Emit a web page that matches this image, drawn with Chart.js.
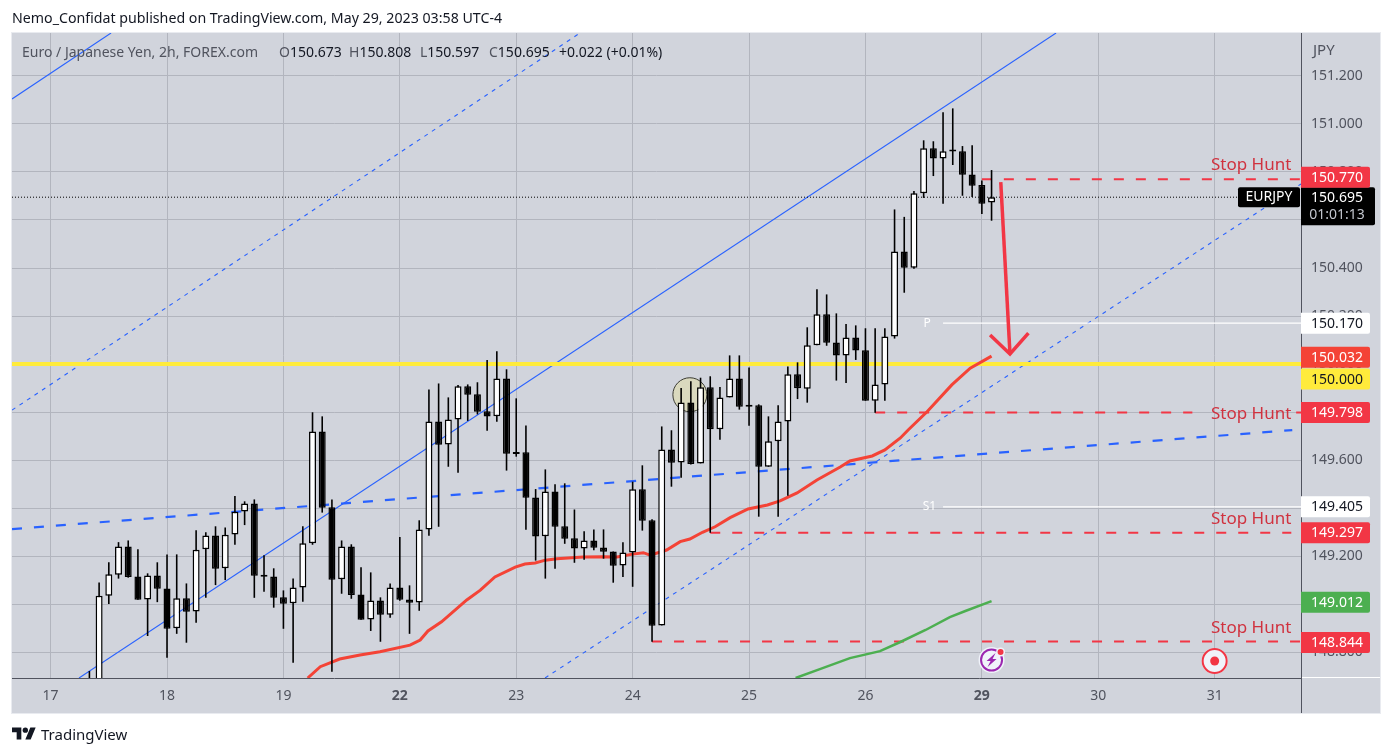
<!DOCTYPE html>
<html>
<head>
<meta charset="utf-8">
<title>EURJPY 2h</title>
<script src="https://cdn.jsdelivr.net/npm/chart.js"></script>
<style>
  html, body { margin: 0; padding: 0; background: #fff; width: 1392px; height: 756px; overflow: hidden; }
  body { position: relative; font-family: "Noto Sans", sans-serif; }
  canvas { position: absolute; left: 0; top: 0; }
  .txt { position: absolute; white-space: nowrap; line-height: 18px; }
  #published { left: 12px; top: 9px; font-size: 14.2px; color: #131722; }
  .leg { top: 43px; font-size: 14px; color: #131722; }
  .leg b { font-weight: 400; color: #50535e; }
  #brand { left: 41px; top: 724px; font-size: 15px; line-height: 20px; color: #131722; }
  #logo { position: absolute; left: 12px; top: 727px; }
</style>
</head>
<body>
<canvas id="chart" width="1392" height="756"></canvas>
<div class="txt" id="published">Nemo_Confidat published on TradingView.com, May 29, 2023 03:58 UTC-4</div>
<div class="txt leg" style="left:22px"><b>Euro / Japanese Yen, 2h, FOREX.com</b></div>
<div class="txt leg" style="left:279px"><b>O</b>150.673</div>
<div class="txt leg" style="left:349px"><b>H</b>150.808</div>
<div class="txt leg" style="left:420px"><b>L</b>150.597</div>
<div class="txt leg" style="left:489px"><b>C</b>150.695</div>
<div class="txt leg" style="left:559px">+0.022 (+0.01%)</div>
<svg id="logo" width="24" height="13" viewBox="0 4 36 18"><path fill="#131722" d="M14 22H7V11H0V4h14v18zM28 22h-8l7.5-18h8L28 22z"/><circle fill="#131722" cx="20" cy="8" r="4"/></svg>
<div class="txt" id="brand">TradingView</div>
<script>
// bars are numbered from the first label (17 May = bar 0), 12 bars a day
const firstBar = 4;
const opens = [148.62,148.50,149.035,149.122,149.240,149.115,149.019,149.119,149.065,148.899,149.024,148.969,149.228,149.286,149.149,149.290,149.386,149.419,149.119,149.115,149.028,149.003,149.069,149.253,149.719,149.403,149.103,149.240,149.040,148.936,149.015,148.956,149.069,149.019,149.007,149.311,149.761,149.665,149.769,149.907,149.874,149.803,149.782,149.940,149.632,149.632,149.444,149.282,149.469,149.324,149.274,149.231,149.265,149.236,149.219,149.161,149.215,149.478,149.349,148.911,149.644,149.590,149.840,149.586,149.903,149.728,149.861,149.940,149.828,149.828,149.572,149.678,149.761,149.957,149.897,150.078,150.207,150.090,150.035,150.111,150.057,149.847,149.915,150.115,150.469,150.401,150.711,150.899,150.856,150.888,150.886,150.790,150.746,150.673];
const highs = [148.721,149.090,149.174,149.258,149.265,149.228,149.128,149.174,149.207,149.207,149.086,149.307,149.299,149.324,149.319,149.450,149.428,149.436,149.203,149.149,149.057,149.107,149.324,149.799,149.782,149.436,149.265,149.249,149.153,149.132,149.028,149.086,149.279,149.078,149.349,149.894,149.919,149.861,149.913,149.915,149.924,150.017,150.053,149.978,149.857,149.744,149.479,149.561,149.499,149.503,149.394,149.303,149.311,149.311,149.219,149.258,149.510,149.578,149.353,149.740,149.724,149.900,149.928,149.943,149.949,149.904,150.036,150.036,149.986,149.832,149.782,149.828,149.990,150.007,150.153,150.311,150.290,150.211,150.167,150.161,150.149,150.149,150.149,150.644,150.613,150.721,150.932,150.928,151.049,151.065,150.908,150.911,150.765,150.808];
const lows = [148.55,148.45,149.000,149.106,149.110,149.018,148.867,149.008,148.776,148.876,148.839,148.922,149.026,149.079,149.100,149.247,149.329,149.026,149.051,148.985,148.897,148.756,149.010,149.247,149.381,148.718,149.043,149.022,148.935,148.888,148.843,148.943,149.014,148.876,148.972,149.285,149.322,149.572,149.547,149.763,149.790,149.722,149.760,149.556,149.614,149.310,149.181,149.106,149.147,149.251,149.172,149.185,149.224,149.189,149.089,149.113,149.072,149.306,148.843,148.911,149.489,149.526,149.581,149.586,149.297,149.685,149.861,149.810,149.743,149.364,149.572,149.364,149.451,149.854,149.839,150.078,150.076,149.931,149.921,150.017,149.847,149.797,149.847,150.106,150.297,150.397,150.692,150.783,150.668,150.829,150.701,150.696,150.625,150.597];
const closes = [148.60,149.035,149.124,149.240,149.113,149.018,149.119,149.064,148.897,149.024,148.968,149.226,149.286,149.147,149.289,149.385,149.419,149.118,149.114,149.026,149.001,149.069,149.253,149.719,149.401,149.101,149.240,149.038,148.935,149.015,148.956,149.069,149.018,149.006,149.311,149.761,149.664,149.769,149.907,149.872,149.801,149.781,149.940,149.626,149.625,149.443,149.281,149.469,149.322,149.272,149.231,149.265,149.235,149.218,149.160,149.215,149.478,149.347,148.910,149.644,149.589,149.840,149.583,149.903,149.728,149.861,149.940,149.822,149.822,149.572,149.678,149.761,149.957,149.899,150.078,150.207,150.089,150.035,150.111,150.056,149.847,149.915,150.115,150.469,150.401,150.711,150.899,150.856,150.886,150.885,150.789,150.743,150.668,150.695];

// moving averages
const redBars = [26.5,27.8,29.8,31.9,33.95,37.05,38.1,38.9,40.3,42.9,44.3,45.8,47.9,48.9,49.95,51,52.2,54.9,56.95,58.4,60,61.1,61.8,63.5,64.9,65.9,67.2,68.5,70.05,71.9,73.9,75.2,76.95,79,81.4,82.4,84.7,86,87.6,88.4,90.35,92.9,94.8,97];
const redValues = [148.692,148.739,148.771,148.788,148.801,148.829,148.85,148.888,148.926,149.017,149.058,149.113,149.154,149.167,149.171,149.183,149.189,149.196,149.197,149.196,149.208,149.214,149.204,149.225,149.26,149.271,149.299,149.322,149.36,149.396,149.413,149.43,149.463,149.517,149.571,149.596,149.617,149.642,149.692,149.725,149.801,149.913,149.983,150.033];
const greenBars = [76.8,79.3,82.4,85.5,87.6,90.2,92.7,94.3,97];
const greenValues = [148.692,148.729,148.775,148.804,148.842,148.892,148.946,148.971,149.012];

// axes
const priceTicks = [148.8,149.0,149.2,149.4,149.6,149.8,150.0,150.2,150.4,150.6,150.8,151.0,151.2];
const dayBars = [0,12,24,36,48,60,72,84,96,108,120];
const dayLabels = ['17','18','19','22','23','24','25','26','29','30','31'];
const boldDays = ['22','29'];

// channel and trend lines, two ends each
const channelBars = [2.93,103.65];
const channelValues = [148.692,151.379];
const channelTopBars = [-3.98,6.23];
const channelTopValues = [151.104,151.379];
const upperDashBars = [-3.98,54.58];
const upperDashValues = [149.808,151.379];
const lowerDashBars = [50.97,128.9];
const lowerDashValues = [148.692,150.75];
const midDashBars = [-3.98,128];
const midDashValues = [149.3125,149.725];

// drawn levels
const stopValues = [150.770,149.798,149.798,149.297,148.844];
const stopFrom = [96,85,128.4,68,62];
const stopTo = [128.9,117.7,128.9,127.9,128.9];
const yellowLevel = 150.000;
const lastPrice = 150.695;
const pivotLevel = 150.170;
const s1Level = 149.405;
const pivotFrom = 92;
const arrowShaftBars = [97.95,98.9];
const arrowShaftValues = [150.758,150.042];
const arrowHeadBars = [96.85,98.9,100.8];
const arrowHeadValues = [150.121,150.042,150.129];
const circleBar = 65.9;
const circleValue = 149.872;

// text marks
const stopTextValues = [150.827,149.792,149.353,148.900];
const badgeValues = [150.770,150.170,150.032,150.000,149.798,149.405,149.297,149.012,148.844];
const badgeLabels = ['150.770','150.170','150.032','150.000','149.798','149.405','149.297','149.012','148.844'];
const badgeFill = ['#f23645','#ffffff','#f44336','#ffeb3b','#f23645','#ffffff','#f23645','#4caf50','#f23645'];
const badgeText = ['#ffffff','#131722','#ffffff','#131722','#ffffff','#131722','#ffffff','#ffffff','#ffffff'];
const badgeNudge = [-2,0,1,15,0,0,0,1,1];

const fontFamily = '"Noto Sans", sans-serif';
const RED = '#f23645';
const BLUE = '#2962ff';
const PANEL = '#d1d4dc';
const GRID = '#b2b5be';
const AXIS = '#50535e';
const PLOT_LEFT = 12;

function lineSet(xs, ys, color, width, dash, order) {
    return {
        type: 'line',
        data: xs.map((x, i) => ({ x: x, y: ys[i] })),
        borderColor: color,
        borderWidth: width,
        borderDash: dash || [],
        pointRadius: 0,
        fill: false,
        tension: 0,
        order: order
    };
}

const barIndex = opens.map((_, i) => i + firstBar);
const candleFill = opens.map((o, i) => closes[i] >= o ? '#ffffff' : '#000000');

const datasets = [
    {
        type: 'bar',
        data: barIndex.map((x, i) => ({ x: x, y: [Math.min(opens[i], closes[i]), Math.max(opens[i], closes[i])] })),
        backgroundColor: candleFill,
        borderColor: '#000000',
        borderWidth: 1.5,
        borderSkipped: false,
        inflateAmount: 0,
        grouped: false,
        barThickness: 7,
        minBarLength: 2,
        order: 1
    },
    {
        type: 'bar',
        data: barIndex.map((x, i) => ({ x: x, y: [lows[i], highs[i]] })),
        backgroundColor: '#000000',
        borderWidth: 0,
        inflateAmount: 0,
        grouped: false,
        barThickness: 1.6,
        order: 2
    },
    {
        type: 'scatter',
        data: [{ x: circleBar, y: circleValue }],
        pointRadius: 17,
        pointBackgroundColor: '#dad9be',
        pointBorderColor: '#3b3b33',
        pointBorderWidth: 1,
        order: 3
    },
    lineSet(redBars, redValues, '#f44336', 3, null, 4),
    lineSet(greenBars, greenValues, '#4caf50', 2.5, null, 4),
    lineSet(arrowShaftBars, arrowShaftValues, RED, 3.5, null, 0),
    lineSet(arrowHeadBars, arrowHeadValues, RED, 3.5, null, 0),
    lineSet(channelBars, channelValues, BLUE, 1.1, null, 6),
    lineSet(channelTopBars, channelTopValues, BLUE, 1.1, null, 6),
    lineSet(upperDashBars, upperDashValues, BLUE, 1.1, [4, 5], 6),
    lineSet(lowerDashBars, lowerDashValues, BLUE, 1.1, [4, 5], 6),
    lineSet(midDashBars, midDashValues, BLUE, 2.2, [10, 12], 6),
    lineSet([-3.98, 128.9], [yellowLevel, yellowLevel], '#ffeb3b', 4, null, 5),
    lineSet([-3.98, 128.9], [lastPrice, lastPrice], '#000000', 1, [1, 2], 5),
    lineSet([pivotFrom, 128.9], [pivotLevel, pivotLevel], '#ffffff', 1.2, null, 5),
    lineSet([pivotFrom, 128.9], [s1Level, s1Level], '#ffffff', 1.2, null, 5)
];
stopValues.forEach((v, i) => {
    datasets.push(lineSet([stopFrom[i], stopTo[i]], [v, v], RED, 2, [10, 12], 5));
});

const panelPlugin = {
    id: 'panel',
    // the time axis keeps a label margin on the left, pull the plot back out to the panel edge
    afterLayout(chart) {
        const xs = chart.scales.x, a = chart.chartArea;
        xs.left = PLOT_LEFT;
        xs.width = xs.right - PLOT_LEFT;
        xs.configure();
        a.left = PLOT_LEFT;
        a.width = a.right - PLOT_LEFT;
    },
    beforeDraw(chart) {
        const c = chart.ctx, a = chart.chartArea;
        c.save();
        c.fillStyle = PANEL;
        c.fillRect(a.left, a.top, 1380 - a.left, 713 - a.top);
        c.strokeStyle = '#e9ebf0';
        c.strokeRect(a.left - 0.5, a.top - 0.5, 1381 - a.left, 714 - a.top);
        c.restore();
    }
};

function roundedBox(c, x, y, w, h, r, fill) {
    c.fillStyle = fill;
    c.beginPath();
    c.roundRect(x, y, w, h, r);
    c.fill();
}

const overlayPlugin = {
    id: 'overlay',
    afterDraw(chart) {
        const c = chart.ctx, a = chart.chartArea;
        const xs = chart.scales.x, ys = chart.scales.y;
        c.save();
        c.textBaseline = 'middle';

        // right axis rule, and the white tail of the time axis
        c.strokeStyle = AXIS;
        c.lineWidth = 1;
        c.beginPath();
        c.moveTo(a.right + 0.5, a.top);
        c.lineTo(a.right + 0.5, 713);
        c.stroke();
        c.strokeStyle = '#ffffff';
        c.beginPath();
        c.moveTo(a.right + 1, a.bottom - 0.5);
        c.lineTo(1380, a.bottom - 0.5);
        c.stroke();

        // pivot names
        c.fillStyle = '#ffffff';
        c.font = '12px ' + fontFamily;
        c.textAlign = 'center';
        c.fillText('P', xs.getPixelForValue(90.35), ys.getPixelForValue(pivotLevel));
        c.fillText('S1', xs.getPixelForValue(90.6), ys.getPixelForValue(s1Level));

        // stop hunt notes
        c.fillStyle = '#d0323f';
        c.font = '17px ' + fontFamily;
        c.textAlign = 'right';
        stopTextValues.forEach(v => c.fillText('Stop Hunt', xs.getPixelForValue(127.9), ys.getPixelForValue(v)));

        // symbol tag and last price box
        const lastY = ys.getPixelForValue(lastPrice);
        roundedBox(c, 1238, lastY - 10, 62, 20, 2, '#000000');
        c.fillStyle = '#ffffff';
        c.font = '14px ' + fontFamily;
        c.textAlign = 'center';
        c.fillText('EURJPY', 1269, lastY);
        roundedBox(c, a.right, lastY - 10, 74, 38, [0, 2, 2, 0], '#000000');
        c.fillStyle = '#ffffff';
        c.fillText('150.695', 1337, lastY + 1);
        c.fillStyle = '#c3c6ce';
        c.fillText('01:01:13', 1337, lastY + 18);

        // price badges
        badgeValues.forEach((v, i) => {
            const y = ys.getPixelForValue(v) + badgeNudge[i];
            roundedBox(c, a.right, y - 10.5, 69, 21, [0, 2, 2, 0], badgeFill[i]);
            c.fillStyle = badgeText[i];
            c.fillText(badgeLabels[i], 1337, y + 0.5);
        });

        // session break icon
        const bx = xs.getPixelForValue(97), iy = a.bottom - 18;
        c.fillStyle = '#f0f3fa';
        c.beginPath(); c.arc(bx, iy, 13, 0, Math.PI * 2); c.fill();
        c.strokeStyle = '#9c27b0';
        c.lineWidth = 2;
        c.beginPath(); c.arc(bx, iy, 10.5, 0, Math.PI * 2); c.stroke();
        c.fillStyle = '#9c27b0';
        c.beginPath();
        c.moveTo(bx + 4, iy - 7); c.lineTo(bx - 5, iy + 1); c.lineTo(bx - 1, iy + 1);
        c.lineTo(bx - 4, iy + 7); c.lineTo(bx + 5, iy - 1); c.lineTo(bx + 1, iy - 1);
        c.closePath(); c.fill();
        c.fillStyle = '#f0f3fa';
        c.beginPath(); c.arc(bx + 9, iy - 8, 4.5, 0, Math.PI * 2); c.fill();
        c.fillStyle = RED;
        c.beginPath(); c.arc(bx + 9, iy - 8, 3, 0, Math.PI * 2); c.fill();

        // upcoming event icon
        const tx = xs.getPixelForValue(120);
        c.fillStyle = '#f0f3fa';
        c.beginPath(); c.arc(tx, iy + 1, 13, 0, Math.PI * 2); c.fill();
        c.strokeStyle = RED;
        c.lineWidth = 2;
        c.beginPath(); c.arc(tx, iy + 1, 12, 0, Math.PI * 2); c.stroke();
        c.fillStyle = RED;
        c.beginPath(); c.arc(tx, iy + 1, 4.5, 0, Math.PI * 2); c.fill();
        c.restore();
    }
};

new Chart(document.getElementById('chart').getContext('2d'), {
    type: 'bar',
    data: { datasets: datasets },
    plugins: [panelPlugin, overlayPlugin],
    options: {
        responsive: false,
        animation: false,
        events: [],
        devicePixelRatio: 1,
        layout: { padding: { left: 12, top: 33, right: 12, bottom: 43 } },
        plugins: { legend: { display: false }, tooltip: { enabled: false } },
        scales: {
            x: {
                type: 'linear',
                min: -3.98,
                max: 128.9,
                offset: false,
                grid: { offset: false, color: GRID, lineWidth: 1, drawTicks: false },
                border: { color: AXIS },
                afterBuildTicks(scale) { scale.ticks = dayBars.map(v => ({ value: v })); },
                afterFit(scale) { scale.height = 35; },
                ticks: {
                    autoSkip: false,
                    maxRotation: 0,
                    padding: 10,
                    color: AXIS,
                    callback: v => dayLabels[dayBars.indexOf(v)],
                    font: ctx => ({
                        family: fontFamily,
                        size: 14,
                        weight: ctx.tick && boldDays.includes(dayLabels[dayBars.indexOf(ctx.tick.value)]) ? 'bold' : 'normal'
                    })
                }
            },
            y: {
                position: 'right',
                min: 148.692,
                max: 151.379,
                grid: { color: GRID, lineWidth: 1, drawTicks: false },
                border: { color: AXIS },
                afterBuildTicks(scale) { scale.ticks = priceTicks.map(v => ({ value: v })); },
                afterFit(scale) { scale.width = 79; },
                ticks: {
                    padding: 10,
                    color: AXIS,
                    font: { family: fontFamily, size: 14 },
                    callback: v => v.toFixed(3)
                }
            }
        }
    }
});

// JPY sits over the price scale
const jpy = document.createElement('div');
jpy.className = 'txt';
jpy.textContent = 'JPY';
jpy.style.cssText = 'left:1313px;top:40px;font-size:15px;color:#50535e';
document.body.appendChild(jpy);
</script>
</body>
</html>
